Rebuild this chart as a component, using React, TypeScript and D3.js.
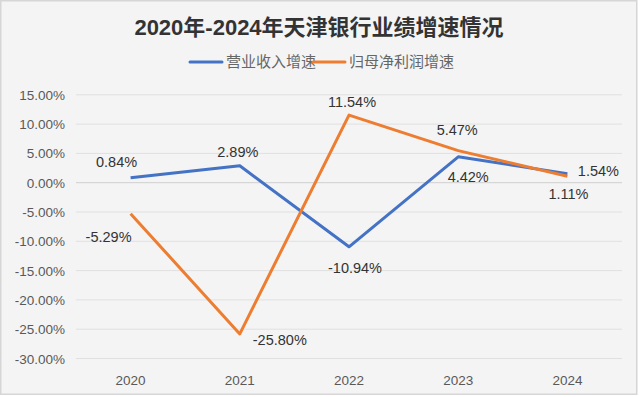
import React, { useEffect, useRef } from 'react';
import * as d3 from 'd3';

const years = ['2020', '2021', '2022', '2023', '2024'];
const revenueGrowth = [0.84, 2.89, -10.94, 4.42, 1.54];
const profitGrowth = [-5.29, -25.8, 11.54, 5.47, 1.11];
const yTicks = [15, 10, 5, 0, -5, -10, -15, -20, -25, -30];

const seriesNames = ['营业收入增速', '归母净利润增速'];
const colors = ['#4472c4', '#ed7d31'];

// label offsets [dx, dy] relative to the point, per series and year
const revenueLabelPos = [[-14, -16], [-2, -14], [6, 21], [10, 20], [31, -3]];
const profitLabelPos = [[-22, 23], [40, 6], [3, -13], [-1, -21], [1, 18]];

const W = 640;
const H = 397;
const FONT = '"Liberation Sans", Arial, "Noto Sans CJK SC", sans-serif';

const pct = (d: number) => d.toFixed(2) + '%';

const App = () => {
    const ref = useRef<SVGSVGElement>(null);

    useEffect(() => {
        const svg = d3.select(ref.current);
        svg.selectAll('*').remove();

        svg.append('rect')
            .attr('x', 0.75).attr('y', 0.75)
            .attr('width', 636).attr('height', 393.5)
            .attr('fill', '#f4f4f4')
            .attr('stroke', '#d6d6d6')
            .attr('stroke-width', 1.5);

        const x = d3.scaleBand().domain(years).range([76, 622]);
        const y = d3.scaleLinear().domain([-30, 15]).range([358.5, 94.8]);
        const cx = (d: string) => (x(d) as number) + x.bandwidth() / 2;

        // title
        svg.append('text')
            .attr('x', 319).attr('y', 35)
            .attr('text-anchor', 'middle')
            .style('font-family', FONT)
            .style('font-weight', 'bold')
            .style('font-size', '22px')
            .attr('fill', '#333333')
            .text('2020年-2024年天津银行业绩增速情况');

        // legend
        const legend = svg.append('g');
        const legendItems = [
            { x0: 190, name: seriesNames[0], color: colors[0] },
            { x0: 313, name: seriesNames[1], color: colors[1] },
        ];
        legendItems.forEach(item => {
            legend.append('line')
                .attr('x1', item.x0).attr('x2', item.x0 + 32)
                .attr('y1', 62).attr('y2', 62)
                .attr('stroke', item.color)
                .attr('stroke-width', 3)
                .attr('stroke-linecap', 'round');
            legend.append('text')
                .attr('x', item.x0 + 36).attr('y', 67)
                .style('font-family', FONT)
                .style('font-size', '15px')
                .attr('fill', '#666666')
                .text(item.name);
        });

        // grid
        svg.append('g')
            .selectAll('line')
            .data(yTicks)
            .enter()
            .append('line')
            .attr('x1', 76).attr('x2', 622)
            .attr('y1', d => y(d)).attr('y2', d => y(d))
            .attr('stroke', d => (d === 0 ? '#cfcfcf' : '#e0e0e0'))
            .attr('stroke-width', 1);

        // y labels
        svg.append('g')
            .selectAll('text')
            .data(yTicks)
            .enter()
            .append('text')
            .attr('x', 65)
            .attr('y', d => y(d) + 5)
            .attr('text-anchor', 'end')
            .style('font-family', FONT)
            .style('font-size', '13.5px')
            .attr('fill', '#595959')
            .text(d => pct(d));

        // x labels
        svg.append('g')
            .selectAll('text')
            .data(years)
            .enter()
            .append('text')
            .attr('x', d => cx(d))
            .attr('y', 385)
            .attr('text-anchor', 'middle')
            .style('font-family', FONT)
            .style('font-size', '13.5px')
            .attr('fill', '#595959')
            .text(d => d);

        const line = d3.line<number>()
            .x((d, i) => cx(years[i]))
            .y(d => y(d));

        const series = [
            { values: revenueGrowth, color: colors[0], pos: revenueLabelPos },
            { values: profitGrowth, color: colors[1], pos: profitLabelPos },
        ];

        series.forEach(s => {
            svg.append('path')
                .datum(s.values)
                .attr('fill', 'none')
                .attr('stroke', s.color)
                .attr('stroke-width', 3)
                .attr('stroke-linejoin', 'round')
                .attr('d', line);
        });

        series.forEach(s => {
            svg.append('g')
                .selectAll('text')
                .data(s.values)
                .enter()
                .append('text')
                .attr('x', (d, i) => cx(years[i]) + s.pos[i][0])
                .attr('y', (d, i) => y(d) + s.pos[i][1] + 5)
                .attr('text-anchor', 'middle')
                .style('font-family', FONT)
                .style('font-size', '14.5px')
                .attr('fill', '#333333')
                .text(d => pct(d));
        });
    }, []);

    return (
        <svg
            ref={ref}
            width={W}
            height={H}
            style={{ position: 'absolute', left: 0, top: 0, background: '#ffffff' }}
        ></svg>
    );
};

export default App;
